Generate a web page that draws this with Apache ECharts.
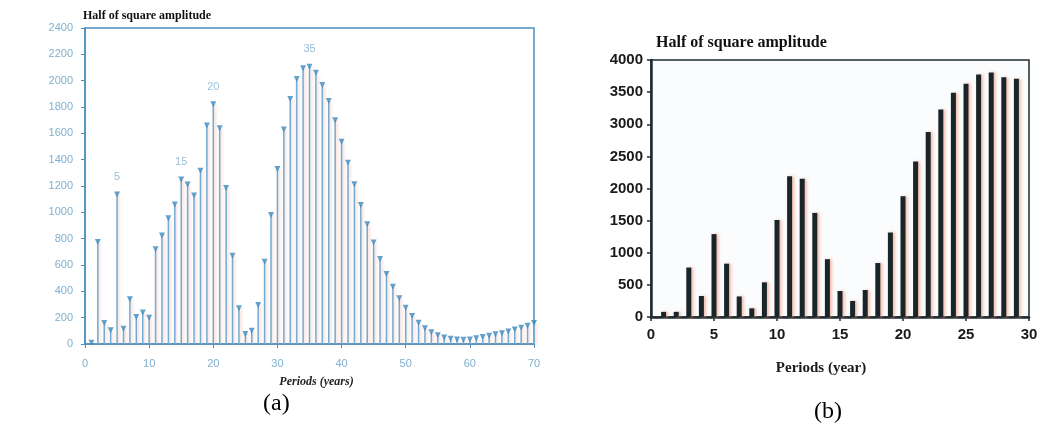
<!DOCTYPE html>
<html>
<head>
<meta charset="utf-8">
<script src="https://cdn.jsdelivr.net/npm/echarts@6.0.0/dist/echarts.min.js"></script>
<style>
  html, body { margin: 0; padding: 0; background: #fff; }
  #main { width: 1043px; height: 428px; }
</style>
</head>
<body>
<div id="main"></div>
<script>
// (a) periods (years) and half of square amplitude
var periodsA = [1, 2, 3, 4, 5, 6, 7, 8, 9, 10, 11, 12, 13, 14, 15, 16, 17, 18, 19, 20,
  21, 22, 23, 24, 25, 26, 27, 28, 29, 30, 31, 32, 33, 34, 35, 36, 37, 38, 39, 40,
  41, 42, 43, 44, 45, 46, 47, 48, 49, 50, 51, 52, 53, 54, 55, 56, 57, 58, 59, 60,
  61, 62, 63, 64, 65, 66, 67, 68, 69, 70];
var ampA = [10, 775, 160, 105, 1135, 115, 340, 205, 240, 200,
  720, 825, 955, 1060, 1250, 1212, 1128, 1316, 1660, 1820,
  1638, 1185, 670, 272, 76, 100, 296, 625, 980, 1330,
  1630, 1860, 2012, 2094, 2106, 2060, 1967, 1846, 1700, 1536,
  1377, 1214, 1056, 909, 770, 646, 532, 435, 347, 276,
  213, 162, 119, 89, 66, 50, 40, 34, 32, 34,
  44, 54, 62, 74, 82, 94, 110, 124, 139, 160];
var peaksA = [5, 15, 20, 35];
var ticksYA = [0, 200, 400, 600, 800, 1000, 1200, 1400, 1600, 1800, 2000, 2200, 2400];
var ticksXA = [0, 10, 20, 30, 40, 50, 60, 70];

// (b) periods (year) and half of square amplitude
var periodsB = [1, 2, 3, 4, 5, 6, 7, 8, 9, 10, 11, 12, 13, 14, 15,
  16, 17, 18, 19, 20, 21, 22, 23, 24, 25, 26, 27, 28, 29];
var ampB = [80, 80, 770, 327, 1290, 830, 320, 135, 540, 1510, 2190, 2150, 1620, 900, 405,
  250, 420, 840, 1315, 1880, 2420, 2880, 3230, 3490, 3630, 3775, 3805, 3730, 3710];
var ticksYB = [0, 500, 1000, 1500, 2000, 2500, 3000, 3500, 4000];
var ticksXB = [0, 5, 10, 15, 20, 25, 30];

var blueAxis = "#4b8fbd";
var blueText = "#7fb0cf";
var darkAxis = "#1f2b30";

var myChart = echarts.init(document.getElementById("main"));

var stemData = [];
var markData = [];
for (var i = 0; i < periodsA.length; i++) {
  stemData.push([periodsA[i], ampA[i]]);
  var isPeak = peaksA.indexOf(periodsA[i]) >= 0;
  markData.push({
    value: [periodsA[i], ampA[i]],
    label: { show: isPeak, formatter: String(periodsA[i]) },
  });
}
var barData = [];
for (var j = 0; j < periodsB.length; j++) {
  barData.push([periodsB[j], ampB[j]]);
}

var option = {
  backgroundColor: "#fff",
  animation: false,
  grid: [
    { left: 85, top: 28, width: 449, height: 316, show: true, borderColor: blueAxis, borderWidth: 1.5, backgroundColor: "transparent" },
    { left: 651, top: 60, width: 378, height: 257, show: true, borderColor: darkAxis, borderWidth: 1.5, backgroundColor: "#fbfcfd" },
  ],
  xAxis: [
    {
      gridIndex: 0, type: "value", min: 0, max: 70, interval: 10,
      name: "Periods (years)", nameLocation: "middle", nameGap: 32,
      nameTextStyle: { fontFamily: "Liberation Serif", fontWeight: "bold", fontStyle: "italic", fontSize: 12, color: "#222", padding: [0, 0, 0, 14] },
      axisLine: { lineStyle: { color: blueAxis, width: 1.5 } },
      axisTick: { show: true, length: 4, lineStyle: { color: blueAxis } },
      axisLabel: { color: blueText, fontSize: 11, fontFamily: "Liberation Sans", margin: 14,
        formatter: function (v) { return ticksXA.indexOf(v) >= 0 ? v : ""; } },
      splitLine: { show: false },
    },
    {
      gridIndex: 1, type: "value", min: 0, max: 30, interval: 5,
      name: "Periods (year)", nameLocation: "middle", nameGap: 44,
      nameTextStyle: { fontFamily: "Liberation Serif", fontWeight: "bold", fontSize: 15, color: "#1a1a1a", padding: [0, 38, 0, 0] },
      axisLine: { lineStyle: { color: darkAxis, width: 2.5 } },
      axisTick: { show: true, length: 4, lineStyle: { color: darkAxis, width: 1.5 } },
      axisLabel: { color: "#1a1a1a", fontSize: 15, fontWeight: "bold", fontFamily: "Liberation Sans", margin: 10,
        formatter: function (v) { return ticksXB.indexOf(v) >= 0 ? v : ""; } },
      splitLine: { show: false },
    },
  ],
  yAxis: [
    {
      gridIndex: 0, type: "value", min: 0, max: 2400, interval: 200,
      axisLine: { show: true, lineStyle: { color: blueAxis, width: 1.5 } },
      axisTick: { show: true, length: 4, lineStyle: { color: blueAxis } },
      axisLabel: { color: blueText, fontSize: 11, fontFamily: "Liberation Sans", margin: 12,
        formatter: function (v) { return ticksYA.indexOf(v) >= 0 ? v : ""; } },
      splitLine: { show: false },
    },
    {
      gridIndex: 1, type: "value", min: 0, max: 4000, interval: 500,
      axisLine: { show: true, lineStyle: { color: darkAxis, width: 2.5 } },
      axisTick: { show: true, length: 4, lineStyle: { color: darkAxis, width: 1.5 } },
      axisLabel: { color: "#1a1a1a", fontSize: 15, fontWeight: "bold", fontFamily: "Liberation Sans", margin: 8,
        formatter: function (v) { return ticksYB.indexOf(v) >= 0 ? v : ""; } },
      splitLine: { show: false },
    },
  ],
  graphic: [
    { type: "text", left: 83, top: 10, style: { text: "Half of square amplitude", font: "bold 12px 'Liberation Serif'", fill: "#111" } },
    { type: "text", left: 656, top: 35, style: { text: "Half of square amplitude", font: "bold 16px 'Liberation Serif'", fill: "#111" } },
    { type: "text", left: 263, top: 392, style: { text: "(a)", font: "24px 'Liberation Serif'", fill: "#000" } },
    { type: "text", left: 814, top: 400, style: { text: "(b)", font: "24px 'Liberation Serif'", fill: "#000" } },
  ],
  series: [
    {
      type: "bar", xAxisIndex: 0, yAxisIndex: 0, data: stemData, barWidth: 1.5,
      itemStyle: { color: "#72abd2", shadowColor: "rgba(240,170,150,0.6)", shadowBlur: 3, shadowOffsetX: 1.5 },
    },
    {
      type: "scatter", xAxisIndex: 0, yAxisIndex: 0, data: markData,
      symbol: "triangle", symbolRotate: 180, symbolSize: 6,
      itemStyle: { color: "#3d8abd" },
      label: { position: "top", distance: 9, color: blueText, fontSize: 11, fontFamily: "Liberation Sans" },
    },
    {
      type: "bar", xAxisIndex: 1, yAxisIndex: 1, data: barData, barWidth: 5,
      itemStyle: { color: "#1a2529", shadowColor: "rgba(240,160,135,0.7)", shadowBlur: 3, shadowOffsetX: 2 },
    },
  ],
};
myChart.setOption(option);
</script>
</body>
</html>
